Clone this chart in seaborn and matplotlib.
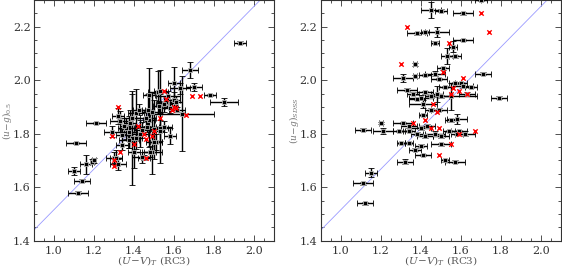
import numpy as np
import pandas as pd
import matplotlib
matplotlib.use("Agg")
import matplotlib.pyplot as plt
import seaborn as sns
from matplotlib.ticker import MultipleLocator

sns.set_theme(style="ticks")
plt.rcParams["font.family"] = ["DejaVu Serif"]
plt.rcParams["mathtext.fontset"] = "dejavuserif"

# left panel: black points (U-V)_T, error, (u-g)_0.5, error
left_x = [1.93, 1.68, 1.85, 1.78, 1.70, 1.63, 1.60, 1.11, 1.21, 1.10, 1.16, 1.19, 1.14, 1.12,
          1.32, 1.39, 1.32, 1.30, 1.45, 1.49, 1.40, 1.52, 1.475, 1.51, 1.64, 1.53, 1.20,
          1.41, 1.33, 1.38, 1.44, 1.50, 1.55, 1.58, 1.53, 1.50, 1.48, 1.44, 1.31, 1.34,
          1.29, 1.375, 1.41, 1.465, 1.565, 1.60, 1.58, 1.615, 1.525, 1.49, 1.425, 1.39,
          1.475, 1.375, 1.34, 1.53, 1.36, 1.46, 1.56, 1.43, 1.35, 1.47, 1.57, 1.61, 1.55]
left_xe = [0.03, 0.04, 0.07, 0.03, 0.04, 0.05, 0.03, 0.05, 0.05, 0.03, 0.03, 0.01, 0.04, 0.05,
           0.03, 0.03, 0.04, 0.04, 0.03, 0.05, 0.03, 0.05, 0.03, 0.03, 0.16, 0.04, 0.01,
           0.04, 0.05, 0.03, 0.04, 0.05, 0.04, 0.03, 0.02, 0.04, 0.03, 0.05, 0.03, 0.03,
           0.04, 0.04, 0.03, 0.06, 0.05, 0.03, 0.04, 0.04, 0.03, 0.05, 0.03, 0.04,
           0.03, 0.05, 0.03, 0.03, 0.04, 0.05, 0.03, 0.04, 0.02, 0.03, 0.06, 0.03, 0.04]
left_y = [2.14, 2.04, 1.92, 1.945, 1.975, 1.97, 1.99, 1.765, 1.84, 1.66, 1.685, 1.695, 1.625, 1.58,
          1.865, 1.785, 1.685, 1.71, 1.71, 1.73, 1.73, 1.955, 1.945, 1.77, 1.875, 1.82, 1.70,
          1.877, 1.846, 1.84, 1.815, 1.817, 1.827, 1.79, 1.812, 1.77, 1.733, 1.712, 1.71, 1.796,
          1.808, 1.808, 1.783, 1.827, 1.915, 1.927, 1.896, 1.89, 1.903, 1.883, 1.89, 1.858,
          1.852, 1.777, 1.758, 1.958, 1.82, 1.86, 1.92, 1.80, 1.83, 1.89, 1.94, 1.92, 1.91]
left_ye = [0.005, 0.03, 0.015, 0.005, 0.015, 0.02, 0.06, 0.005, 0.005, 0.015, 0.035, 0.01, 0.005, 0.005,
           0.03, 0.175, 0.02, 0.02, 0.01, 0.08, 0.06, 0.08, 0.10, 0.03, 0.14, 0.13, 0.01,
           0.09, 0.04, 0.05, 0.03, 0.11, 0.02, 0.03, 0.04, 0.03, 0.02, 0.02, 0.03, 0.02,
           0.02, 0.06, 0.04, 0.02, 0.02, 0.03, 0.02, 0.01, 0.02, 0.07, 0.02, 0.09,
           0.10, 0.03, 0.02, 0.08, 0.04, 0.03, 0.02, 0.05, 0.03, 0.06, 0.02, 0.02, 0.03]
# left panel: red crosses
left_rx = [1.32, 1.55, 1.69, 1.73, 1.66, 1.60, 1.33, 1.30, 1.30, 1.40, 1.46, 1.53, 1.45, 1.49,
           1.56, 1.42, 1.29, 1.50, 1.46, 1.59, 1.61]
left_ry = [1.90, 1.96, 1.94, 1.94, 1.87, 1.90, 1.73, 1.70, 1.68, 1.76, 1.71, 1.86, 1.80, 1.79,
           1.93, 1.83, 1.79, 1.81, 1.78, 1.89, 1.895]

# right panel: black points (U-V)_T, error, (u-g)_SDSS, error
right_x = [1.45, 1.50, 1.61, 1.70, 1.38, 1.48, 1.42, 1.47, 1.61, 1.56, 1.53, 1.57, 1.37, 1.51,
           1.71, 1.31, 1.47, 1.42, 1.49, 1.37, 1.33, 1.42, 1.45, 1.40, 1.48, 1.50, 1.55, 1.63,
           1.79, 1.57, 1.60, 1.61, 1.65, 1.52, 1.38, 1.36, 1.41, 1.45, 1.41, 1.49, 1.58, 1.55,
           1.20, 1.31, 1.34, 1.34, 1.11, 1.21, 1.29, 1.40, 1.43, 1.38, 1.47, 1.50, 1.54, 1.59,
           1.62, 1.58, 1.42, 1.30, 1.34, 1.40, 1.37, 1.50, 1.41, 1.32, 1.52, 1.57, 1.15, 1.11, 1.12]
right_xe = [0.05, 0.03, 0.05, 0.03, 0.05, 0.06, 0.02, 0.02, 0.05, 0.02, 0.03, 0.03, 0.01, 0.03,
            0.04, 0.05, 0.05, 0.03, 0.04, 0.01, 0.05, 0.04, 0.03, 0.06, 0.03, 0.04, 0.13, 0.04,
            0.04, 0.03, 0.03, 0.05, 0.03, 0.03, 0.04, 0.03, 0.07, 0.03, 0.02, 0.04, 0.05, 0.03,
            0.01, 0.05, 0.04, 0.03, 0.04, 0.05, 0.03, 0.05, 0.04, 0.03, 0.05, 0.04, 0.03, 0.04,
            0.05, 0.03, 0.04, 0.02, 0.02, 0.03, 0.03, 0.05, 0.04, 0.04, 0.02, 0.05, 0.03, 0.05, 0.04]
right_y = [2.264, 2.26, 2.25, 2.30, 2.175, 2.18, 2.18, 2.14, 2.15, 2.125, 2.09, 2.09, 2.06, 2.045,
           2.025, 2.01, 2.025, 2.02, 2.005, 2.015, 1.965, 1.955, 1.94, 1.935, 1.95, 1.94, 1.94, 1.95,
           1.935, 1.99, 1.99, 1.98, 1.975, 1.975, 1.93, 1.95, 1.91, 1.89, 1.87, 1.89, 1.855, 1.85,
           1.84, 1.84, 1.83, 1.81, 1.815, 1.81, 1.81, 1.82, 1.83, 1.80, 1.80, 1.79, 1.81, 1.81,
           1.80, 1.80, 1.79, 1.765, 1.765, 1.755, 1.74, 1.76, 1.72, 1.695, 1.70, 1.695, 1.655, 1.615, 1.54]
right_ye = [0.03, 0.005, 0.005, 0.005, 0.005, 0.02, 0.005, 0.005, 0.005, 0.02, 0.03, 0.005, 0.005, 0.005,
            0.005, 0.015, 0.01, 0.005, 0.005, 0.005, 0.005, 0.005, 0.005, 0.01, 0.03, 0.005, 0.05, 0.005,
            0.005, 0.005, 0.005, 0.01, 0.005, 0.005, 0.005, 0.005, 0.015, 0.005, 0.005, 0.005, 0.02, 0.005,
            0.005, 0.005, 0.01, 0.005, 0.005, 0.01, 0.005, 0.005, 0.005, 0.005, 0.01, 0.005, 0.005, 0.005,
            0.01, 0.005, 0.005, 0.005, 0.005, 0.005, 0.005, 0.005, 0.005, 0.01, 0.005, 0.005, 0.015, 0.005, 0.005]
# right panel: red crosses
right_rx = [1.33, 1.70, 1.74, 1.54, 1.30, 1.51, 1.61, 1.59, 1.63, 1.46, 1.48, 1.56, 1.42, 1.45,
            1.49, 1.67, 1.59, 1.55, 1.49, 1.36, 1.55]
right_ry = [2.20, 2.25, 2.18, 2.14, 2.06, 2.03, 2.01, 1.96, 1.95, 1.91, 1.88, 1.97, 1.85, 1.82,
            1.82, 1.81, 1.80, 1.76, 1.72, 1.84, 1.95]

# reference line
line_x = [0.9, 2.1]
slope, inter = 0.76, 0.756

fig = plt.figure(figsize=(5.62, 2.67), dpi=100)
ax1 = fig.add_axes([0.0605, 0.0985, 0.427, 0.9015])
ax2 = fig.add_axes([0.571, 0.0985, 0.427, 0.9015])

panels = [
    (ax1, left_x, left_xe, left_y, left_ye, left_rx, left_ry, r"$(u\!-\!g)_{0.5}$"),
    (ax2, right_x, right_xe, right_y, right_ye, right_rx, right_ry, r"$(u\!-\!g)_{SDSS}$"),
]

for ax, x, xe, y, ye, rx, ry, ylab in panels:
    lx = np.array(line_x)
    ax.plot(lx, slope * lx + inter, color="#9a9aff", lw=0.6, zorder=1)
    eb = ax.errorbar(x, y, xerr=xe, yerr=ye, fmt="s", color="black", ms=2.8,
                     mec="0.7", mew=0.6, elinewidth=1.0, capsize=2.2, capthick=0.8, zorder=3)
    for cap in eb[1]:
        cap.set_color("0.55")
    df = pd.DataFrame({"x": rx, "y": ry})
    sns.scatterplot(data=df, x="x", y="y", marker="x", color="red", s=10,
                    linewidth=1.0, ax=ax, zorder=4)
    ax.set_xlim(0.9, 2.1)
    ax.set_ylim(1.4, 2.3)
    ax.xaxis.set_major_locator(MultipleLocator(0.2))
    ax.xaxis.set_minor_locator(MultipleLocator(0.05))
    ax.yaxis.set_major_locator(MultipleLocator(0.2))
    ax.yaxis.set_minor_locator(MultipleLocator(0.05))
    ax.tick_params(which="both", direction="in", top=True, right=True,
                   labelsize=8, colors="0.2", width=0.6)
    ax.tick_params(axis="y", pad=2.5)
    ax.tick_params(which="major", length=4)
    ax.tick_params(which="minor", length=2)
    for s in ax.spines.values():
        s.set_color("0.2")
        s.set_linewidth(0.8)
    ax.set_xlabel(r"$(U\!-\!V)_T$ (RC3)", fontsize=7.5, color="0.35", labelpad=-1)
    ax.set_ylabel(ylab, fontsize=6.5, color="0.45")
    ax.yaxis.set_label_coords(-0.085, 0.5)

fig.savefig("out.png", dpi=100)
